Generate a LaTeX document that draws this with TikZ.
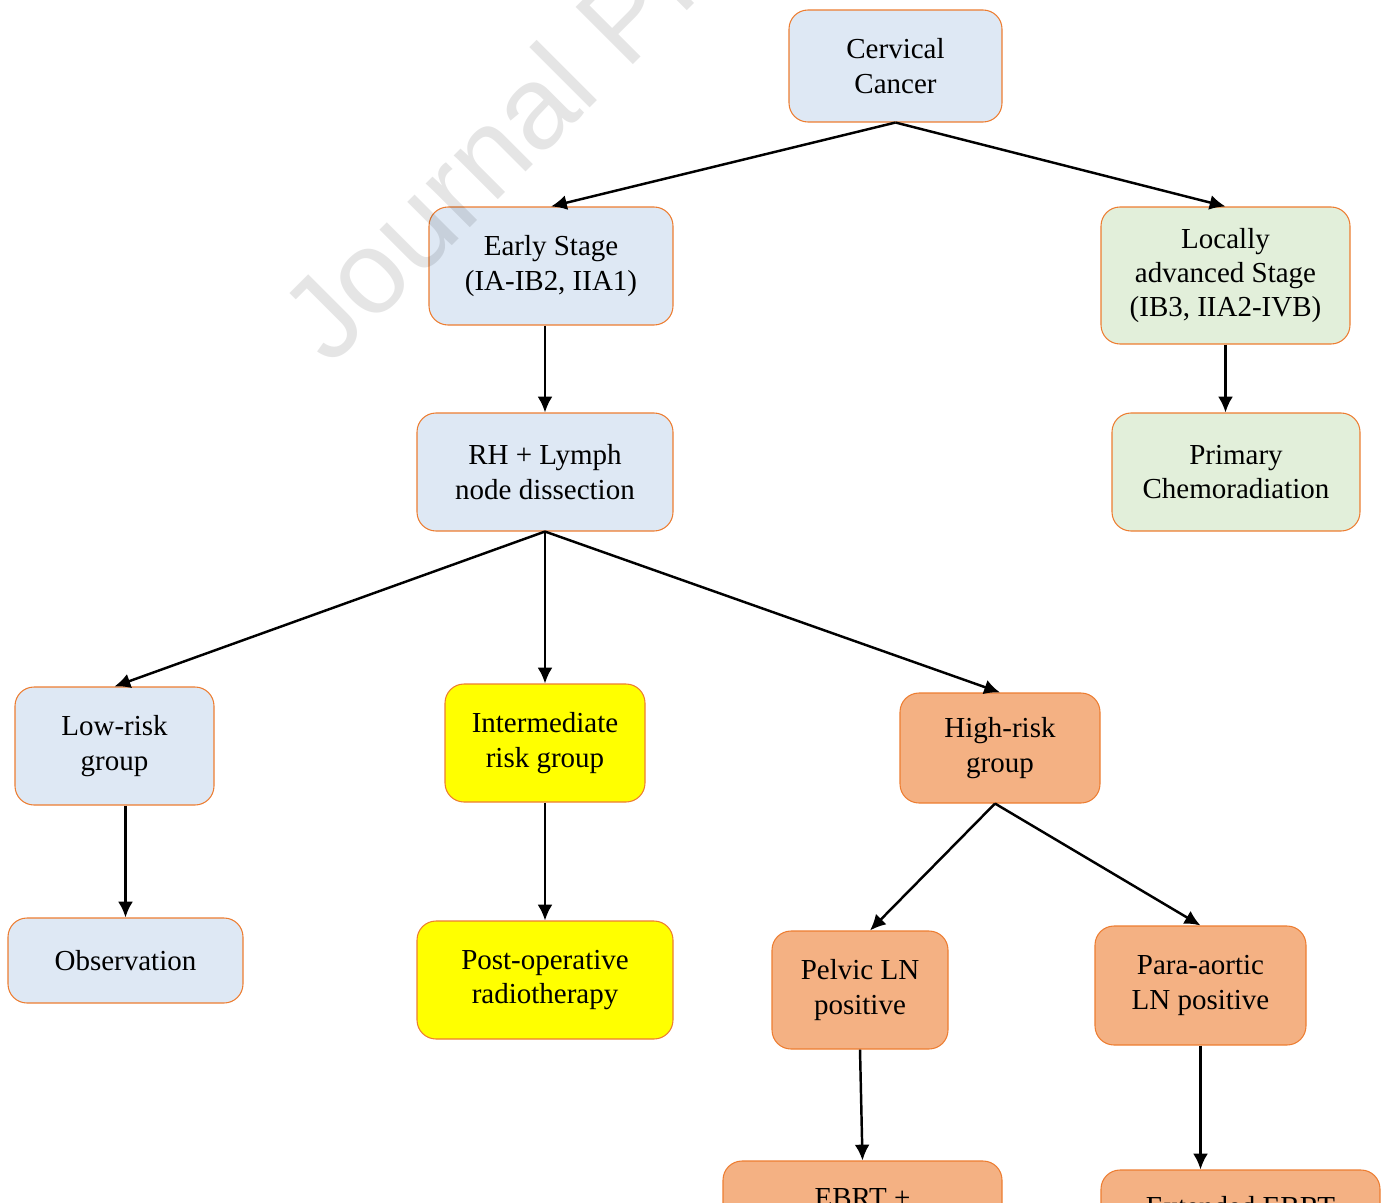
\documentclass[tikz,border=0pt]{standalone}
\usepackage{fontspec}
\setmainfont{Liberation Serif}
\newfontfamily\wmfont{Liberation Sans}
\usepackage{tikz}
\usetikzlibrary{arrows.meta, positioning}

\definecolor{boxblue}{HTML}{DEE8F4}
\definecolor{boxgreen}{HTML}{E2EFDA}
\definecolor{boxyellow}{HTML}{FFFF00}
\definecolor{boxorange}{HTML}{F4B183}
\definecolor{boxline}{HTML}{ED7D31}

\begin{document}
\begin{tikzpicture}[x=0.02cm, y=-0.02cm,
  box/.style={rectangle, rounded corners=0.38cm, draw=boxline, line width=0.6pt,
    align=center, inner sep=2pt, font=\fontsize{16.5}{19.5}\selectfont},
  sz/.style 2 args={minimum width=#1*0.02cm, minimum height=#2*0.02cm},
  arr/.style={-{Latex[length=9pt,width=8.5pt]}, line width=1.4pt}]

\useasboundingbox (0,0) rectangle (1386,1203);

% Boxes of the tree
\node[box, fill=boxblue, sz={213}{112}] (cc) at (895.5,66) {Cervical\\Cancer};
\node[box, fill=boxblue, sz={244}{118}] (early) at (551,266) {Early Stage\\(IA-IB2, IIA1)};
\node[box, fill=boxgreen, sz={249}{137}] (local) at (1225.5,275.5) {Locally\\advanced Stage\\(IB3, IIA2-IVB)};
\node[box, fill=boxblue, sz={256}{118}] (rh) at (545,472) {RH + Lymph\\node dissection};
\node[box, fill=boxgreen, sz={248}{118}] (primary) at (1236,472) {Primary\\Chemoradiation};
\node[box, fill=boxblue, sz={199}{118}] (low) at (114.5,746) {Low-risk\\group};
\node[box, fill=boxyellow, sz={200}{118}] (inter) at (545,743) {Intermediate\\risk group};
\node[box, fill=boxorange, sz={200}{110}] (high) at (1000,748) {High-risk\\group};
\node[box, fill=boxblue, sz={235}{85}] (obs) at (125.5,960.5) {Observation};
\node[box, fill=boxyellow, sz={256}{118}] (postop) at (545,980) {Post-operative\\radiotherapy};
\node[box, fill=boxorange, sz={176}{118}] (pelvic) at (860,990) {Pelvic LN\\positive};
\node[box, fill=boxorange, sz={211}{119}] (para) at (1200.5,985.5) {Para-aortic\\LN positive};
\node[box, fill=boxorange, sz={279}{118}] (ebrt) at (862.5,1220) {EBRT +\\\strut};
\node[box, fill=boxorange, sz={279}{118}] (ext) at (1240.5,1229) {Extended EBRT\\\strut};

% Arrows
\foreach \a/\b in {cc/early, cc/local, rh/low, rh/inter, rh/high,
  inter/postop, pelvic/ebrt} {
  \draw[arr] (\a.south) -- (\b.north);
}
\draw[arr] (rh.north |- early.south) -- (rh.north);
\draw[arr] (local.south) -- (local.south |- primary.north);
\draw[arr] (obs.north |- low.south) -- (obs.north);
\draw[arr] ([xshift=-0.1cm]high.south) -- ([xshift=0.2cm]pelvic.north);
\draw[arr] ([xshift=-0.1cm]high.south) -- (para.north);
\draw[arr] (para.south) -- (para.south |- ext.north);

% Watermark
\node[anchor=base west, rotate=45, text=black, text opacity=0.1, inner sep=0pt,
  font=\wmfont\fontsize{67}{70}\selectfont] (wm) at (330,368) {Journal Pre-proof};
\end{tikzpicture}
\end{document}
